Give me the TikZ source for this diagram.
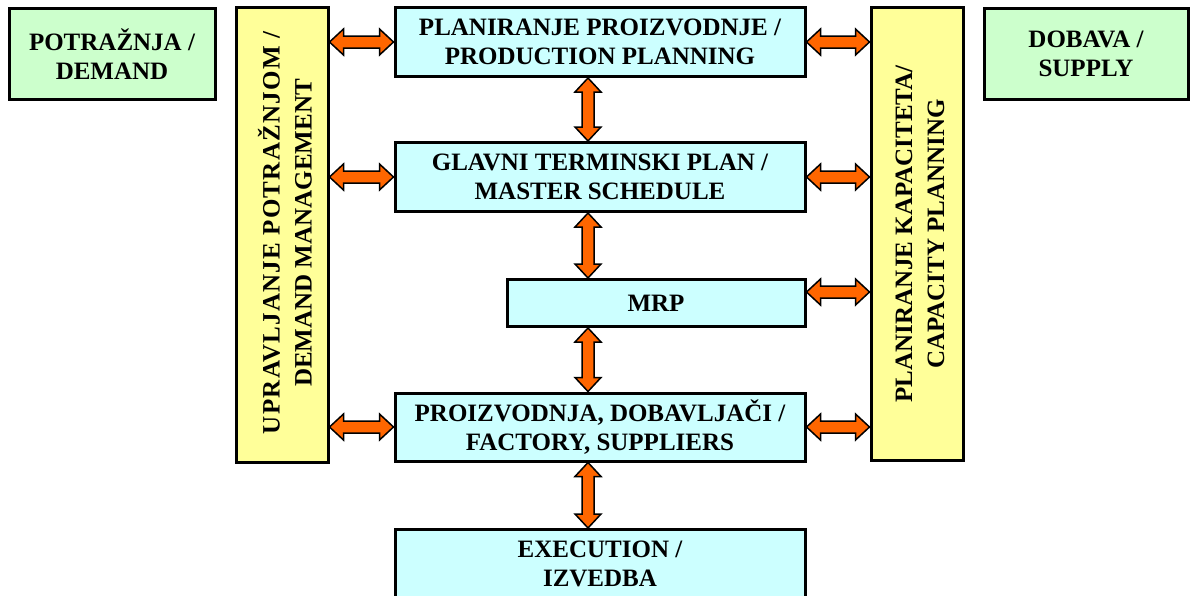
\documentclass[tikz,border=0pt]{standalone}
\usepackage{fontspec}
\setmainfont{Liberation Serif}
\usetikzlibrary{calc}
\definecolor{boxcyan}{HTML}{CCFFFF}
\definecolor{boxyellow}{HTML}{FFFF99}
\definecolor{boxgreen}{HTML}{CCFFCC}
\definecolor{arrorange}{HTML}{FF6600}
\tikzset{
  box/.style={draw=black, line width=3pt, inner sep=0pt, align=center,
    font=\fontsize{25}{29}\selectfont\bfseries},
  cyanbox/.style={box, fill=boxcyan},
  yellowbox/.style={box, fill=boxyellow},
  greenbox/.style={box, fill=boxgreen},
  vtext/.style={rotate=90, align=center, inner sep=0pt,
    font=\fontsize{25}{32}\selectfont\bfseries},
  fatarrow/.style={fill=arrorange, draw=black, line width=1.5pt, line join=miter},
}
\newcommand\fatarr[2]{%
  \draw[fatarrow] let \p1=#1, \p2=#2,
    \n1={veclen(\x2-\x1,\y2-\y1)},
    \n2={atan2(scalar(\y2-\y1),scalar(\x2-\x1))},
    \n3={\n1-14pt} in
    [shift={(\p1)}, rotate=\n2]
    (0pt,0pt) -- (14pt,13pt) -- (14pt,6pt) -- (\n3,6pt) -- (\n3,13pt)
    -- (\n1,0pt) -- (\n3,-13pt) -- (\n3,-6pt) -- (14pt,-6pt)
    -- (14pt,-13pt) -- cycle;}
\begin{document}
\begin{tikzpicture}[x=1pt,y=-1pt]
\path[use as bounding box, clip] (0,0) rectangle (1195,595);
% side boxes
\node[greenbox, minimum width=206pt, minimum height=91pt] (demand) at (112,54)
  {POTRAŽNJA /\\DEMAND};
\node[greenbox, minimum width=204pt, minimum height=91pt] (supply) at (1086,54)
  {DOBAVA /\\SUPPLY};
% yellow columns
\node[yellowbox, minimum width=92pt, minimum height=455pt] (ul) at (282,235) {};
\node[vtext] (ultext) at (285,233)
  {{\addfontfeature{LetterSpace=5}UPRAVLJANJE POTRAŽNJOM /}\\DEMAND MANAGEMENT};
\node[yellowbox, minimum width=92pt, minimum height=453pt] (cr) at (917,234) {};
\node[vtext] (crtext) at (920,234) {PLANIRANJE KAPACITETA/\\CAPACITY PLANNING};
% central boxes
\node[cyanbox, minimum width=410pt, minimum height=69pt] (pp) at (600,42)
  {PLANIRANJE PROIZVODNJE /\\PRODUCTION PLANNING};
\node[cyanbox, minimum width=410pt, minimum height=69pt] (ms) at (600,177)
  {GLAVNI TERMINSKI PLAN /\\MASTER SCHEDULE};
\node[cyanbox, minimum width=298pt, minimum height=47pt] (mrp) at (656,303) {MRP};
\node[cyanbox, minimum width=410pt, minimum height=84pt, anchor=north] (exe) at (600,528)
  {};
\node[cyanbox, minimum width=410pt, minimum height=68pt] (fac) at (600,427)
  {PROIZVODNJA, DOBAVLJAČI /\\FACTORY, SUPPLIERS};
\node[font=\fontsize{25}{29}\selectfont\bfseries, align=center, inner sep=0pt]
  (exetext) at (600,564) {EXECUTION /\\IZVEDBA};
% reference coordinates
\coordinate (vx) at (588,0);
\coordinate (mrpr) at ($(mrp.east)+(0,-11)$);
% left arrows
\fatarr{(ul.east |- pp.west)}{(pp.west)}
\fatarr{(ul.east |- ms.west)}{(ms.west)}
\fatarr{(ul.east |- fac.west)}{(fac.west)}
% right arrows
\fatarr{(pp.east)}{(cr.west |- pp.east)}
\fatarr{(ms.east)}{(cr.west |- ms.east)}
\fatarr{(mrpr)}{(cr.west |- mrpr)}
\fatarr{(fac.east)}{(cr.west |- fac.east)}
% vertical arrows
\fatarr{(vx |- pp.south)}{(vx |- ms.north)}
\fatarr{(vx |- ms.south)}{(vx |- mrp.north)}
\fatarr{(vx |- mrp.south)}{(vx |- fac.north)}
\fatarr{(vx |- fac.south)}{(vx |- exe.north)}
\end{tikzpicture}
\end{document}
